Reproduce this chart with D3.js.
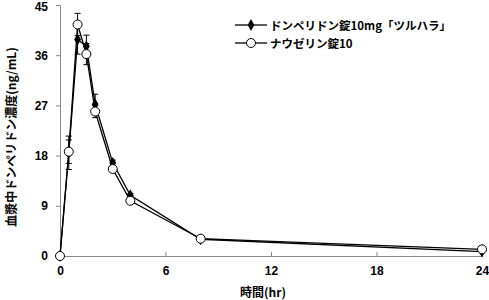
<!DOCTYPE html>
<html><head><meta charset="utf-8">
<script src="https://cdn.jsdelivr.net/npm/d3@7"></script>
<style>
body{margin:0;background:#fff;}
text{font-family:"Noto Sans CJK JP","Noto Sans",sans-serif;}
</style></head>
<body><svg id="c" width="489" height="300"></svg>
<script>
const times = [0, 0.5, 1, 1.5, 2, 3, 4, 8, 24];
const seriesNames = ["ドンペリドン錠10mg「ツルハラ」", "ナウゼリン錠10"];
const domperidone = [0, 18.5, 38.8, 37.6, 27.2, 16.7, 10.9, 3.0, 0.8];
const domperidoneSD = [0, 3.0, 2.6, 2.0, 1.8, 0.5, 0.3, 0.2, 0.1];
const nauzelin = [0, 18.7, 41.5, 36.2, 25.9, 15.6, 9.9, 3.1, 1.2];
const nauzelinSD = [0, 2.1, 2.0, 1.9, 1.1, 0.5, 0.3, 0.2, 0.1];
const xTicks = [0, 6, 12, 18, 24];
const yTicks = [0, 9, 18, 27, 36, 45];
const xTitle = "時間(hr)";
const yTitle = "血漿中ドンペリドン濃度(ng/mL)";

const svg = d3.select("#c");
const x = d3.scaleLinear().domain([0, 24]).range([60, 482]);
const y = d3.scaleLinear().domain([0, 45]).range([256, 5]);

// axes
const gx = svg.append("g").attr("transform", "translate(0,256)")
  .call(d3.axisBottom(x).tickValues(xTicks).tickSize(-4).tickPadding(10));
const gy = svg.append("g").attr("transform", "translate(60,0)")
  .call(d3.axisLeft(y).tickValues(yTicks).tickSize(4).tickPadding(8));
[gx, gy].forEach(g => {
  g.select(".domain").attr("stroke", "#888");
  g.selectAll(".tick line").attr("stroke", "#888");
  g.selectAll(".tick text").attr("font-size", 12).attr("font-weight", "bold").attr("fill", "#000")
   .style("font-family", "'Liberation Sans',Arial,sans-serif");
});
gx.selectAll(".tick").filter(d => d === 0).select("line").remove();
gy.selectAll(".tick").filter(d => d === 45).select("text").attr("dy", "0.42em");

svg.append("text").attr("x", 263).attr("y", 297).attr("text-anchor", "middle")
  .attr("font-size", 12).attr("font-weight", "bold").text(xTitle);
svg.append("text").attr("transform", "translate(16,137) rotate(-90)").attr("text-anchor", "middle")
  .attr("font-size", 12).attr("font-weight", "bold").text(yTitle);

const data = [
  {vals: domperidone, sd: domperidoneSD, marker: "diamond"},
  {vals: nauzelin, sd: nauzelinSD, marker: "circle"}
];
const line = d3.line().x(d => x(d[0])).y(d => y(d[1]));
data.forEach(s => {
  const pts = times.map((t, i) => [t, s.vals[i], s.sd[i]]);
  const g = svg.append("g");
  pts.filter(p => p[2] > 0).forEach(p => {
    const cx = x(p[0]);
    g.append("line").attr("x1", cx).attr("x2", cx).attr("y1", y(p[1] + p[2])).attr("y2", y(p[1] - p[2])).attr("stroke", "#000").attr("stroke-width", 1);
    [p[1] + p[2], p[1] - p[2]].forEach(v => g.append("line").attr("x1", cx - 3).attr("x2", cx + 3).attr("y1", y(v)).attr("y2", y(v)).attr("stroke", "#000").attr("stroke-width", 1));
  });
  g.append("path").datum(pts).attr("d", line).attr("fill", "none").attr("stroke", "#000").attr("stroke-width", 1.3);
});
data.forEach(s => {
  const pts = times.map((t, i) => [t, s.vals[i]]);
  const g = svg.append("g");
  if (s.marker === "diamond") {
    g.selectAll("path").data(pts).join("path")
      .attr("d", d3.symbol(d3.symbolDiamond, 40)())
      .attr("transform", d => `translate(${x(d[0])},${y(d[1])})`)
      .attr("fill", "#000");
  } else {
    g.selectAll("circle").data(pts).join("circle")
      .attr("cx", d => x(d[0])).attr("cy", d => y(d[1])).attr("r", 4.5)
      .attr("fill", "#fff").attr("stroke", "#000").attr("stroke-width", 1);
  }
});

// legend
const leg = svg.append("g");
[0, 1].forEach(i => {
  const ly = 25 + i * 18;
  leg.append("line").attr("x1", 235).attr("x2", 267).attr("y1", ly).attr("y2", ly).attr("stroke", "#000").attr("stroke-width", 1.3);
  if (i === 0) leg.append("path").attr("d", d3.symbol(d3.symbolDiamond, 40)()).attr("transform", `translate(251,${ly})`).attr("fill", "#000");
  else leg.append("circle").attr("cx", 251).attr("cy", ly).attr("r", 4.5).attr("fill", "#fff").attr("stroke", "#000");
  leg.append("text").attr("x", 270).attr("y", ly + 4.5).attr("font-size", 11.5).attr("font-weight", "bold").text(seriesNames[i]);
});
</script></body></html>
